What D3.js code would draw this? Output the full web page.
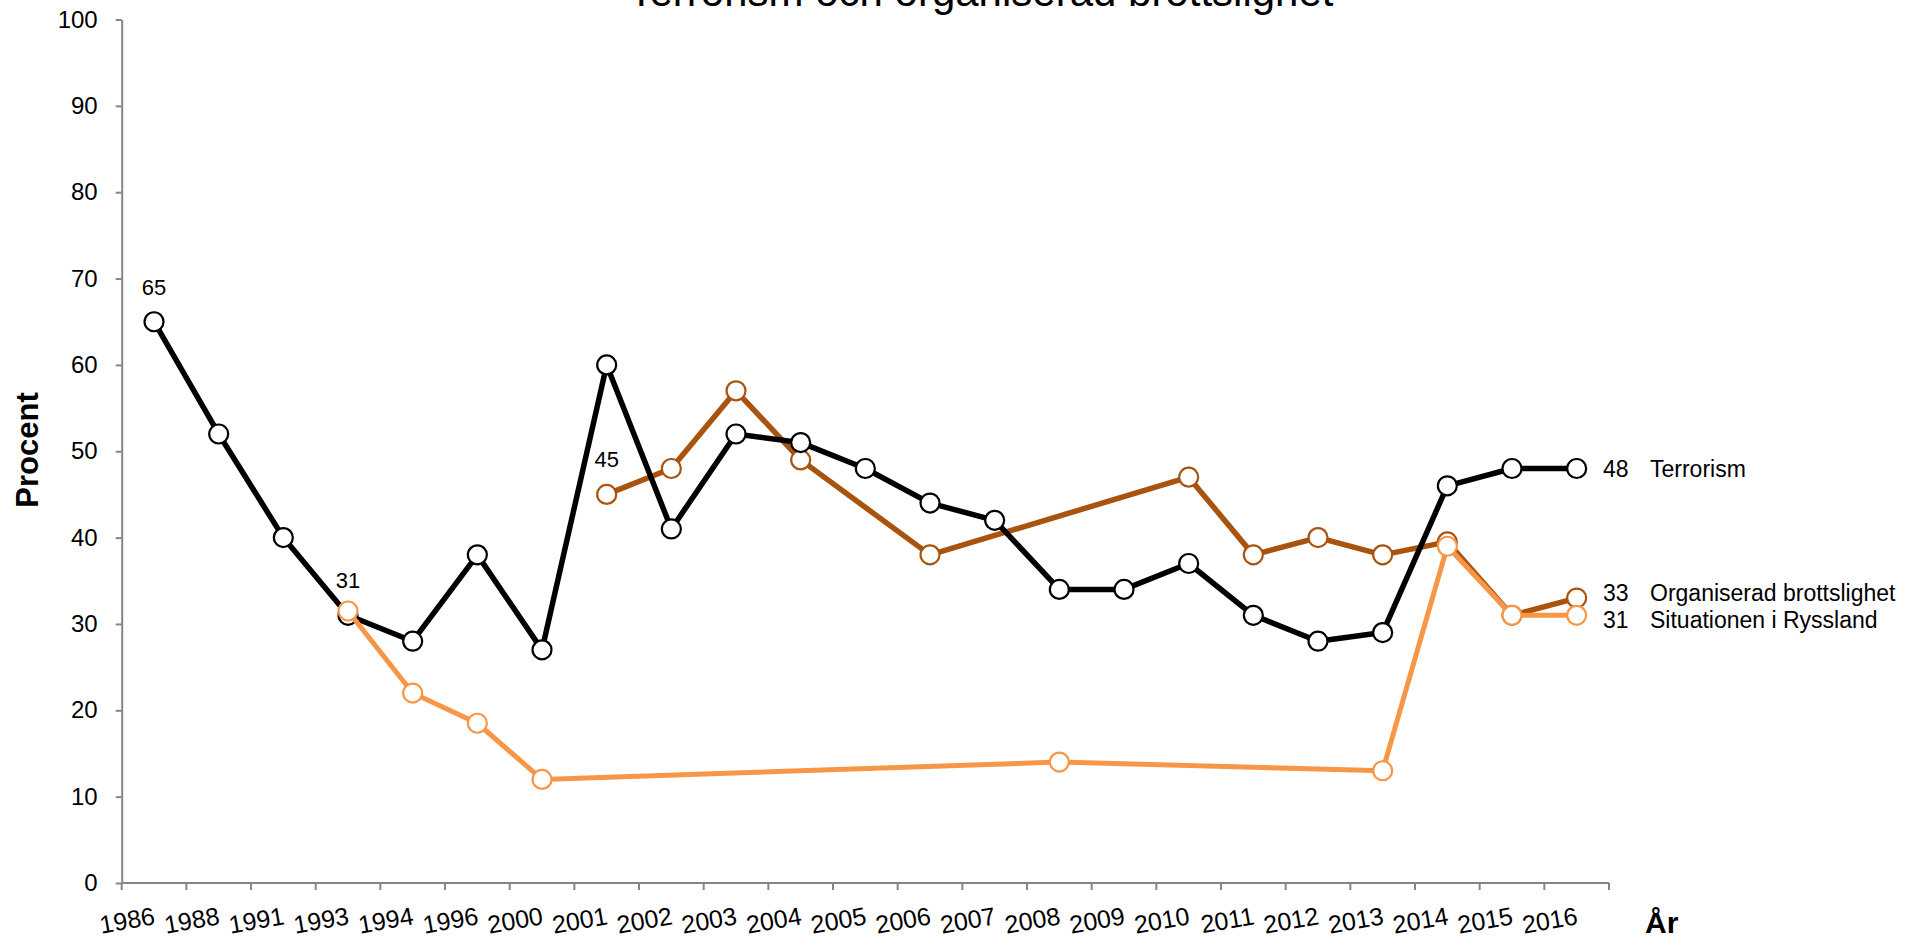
<!DOCTYPE html>
<meta charset="utf-8">
<style>
  body { margin: 0; background: #fff; }
  svg text { font-family: "Liberation Sans", Arial, sans-serif; fill: #000; }
</style>
<svg width="1928" height="939"></svg>
<script src="https://d3js.org/d3.v7.min.js"></script>
<script>

var years = ["1986","1988","1991","1993","1994","1996","2000","2001","2002","2003","2004",
  "2005","2006","2007","2008","2009","2010","2011","2012","2013","2014","2015","2016"];

var terrorism   = [65,52,40,31,28,38,27,60,41,52,51,48,44,42,34,34,37,31,28,29,46,48,48];
var organiserad = [null,null,null,null,null,null,null,45,48,57,49,null,38,null,null,null,47,38,40,38,39.5,31,33];
var ryssland    = [null,null,null,31.5,22,18.5,12,null,null,null,null,null,null,null,14,null,null,null,null,13,39,31,31];

var yTicks = [0,10,20,30,40,50,60,70,80,90,100];

var title = "Terrorism och organiserad brottslighet";
var yTitle = "Procent";
var xTitle = "År";

// series drawn in this order (brown under black, orange on top)
var series = [
  {name: "Organiserad brottslighet", values: organiserad, color: "#A8530E", width: 5.5, endShift: -5},
  {name: "Terrorism", values: terrorism, color: "#000000", width: 5.5, endShift: 0},
  {name: "Situationen i Ryssland", values: ryssland, color: "#F79646", width: 5, endShift: 5}
];

// single value labels
var pointLabels = [
  {values: terrorism, year: "1986"},
  {values: terrorism, year: "1993"},
  {values: organiserad, year: "2001"}
];

function drawChart() {
  var svg = d3.select("svg"),
      plotLeft = 121.7, plotRight = 1609, plotTop = 19.5, plotBottom = 883;

  var x = d3.scaleBand().domain(years).range([plotLeft, plotRight]);
  var y = d3.scaleLinear().domain([0, 100]).range([plotBottom, plotTop]);
  var cx = function(yr) { return x(yr) + x.bandwidth() / 2; };

  var axisColor = "#868686";

  svg.append("text")
      .attr("x", 981)
      .attr("y", 6)
      .attr("text-anchor", "middle")
      .style("font-size", "42px")
      .text(title);

  // y axis
  var gy = svg.append("g")
      .attr("transform", "translate(" + plotLeft + ",0)")
      .call(d3.axisLeft(y).tickValues(yTicks).tickSize(6).tickPadding(18).tickSizeOuter(0));
  gy.select(".domain").attr("stroke", axisColor).attr("stroke-width", 2);
  gy.selectAll(".tick line").attr("stroke", axisColor).attr("stroke-width", 2);
  gy.selectAll(".tick text").style("font-size", "24px").attr("fill", "#000");

  // x axis, ticks between the categories
  var gx = svg.append("g")
      .attr("transform", "translate(0," + plotBottom + ")");
  gx.append("line")
      .attr("x1", plotLeft).attr("x2", plotRight)
      .attr("stroke", axisColor).attr("stroke-width", 2);
  gx.selectAll(".xtick")
      .data(years.concat(["end"]))
    .enter().append("line")
      .attr("class", "xtick")
      .attr("x1", function(d) { return d === "end" ? plotRight : x(d); })
      .attr("x2", function(d) { return d === "end" ? plotRight : x(d); })
      .attr("y1", 0).attr("y2", 7)
      .attr("stroke", axisColor).attr("stroke-width", 2);
  gx.selectAll(".xlabel")
      .data(years)
    .enter().append("text")
      .attr("class", "xlabel")
      .attr("text-anchor", "end")
      .attr("transform", function(d) {
        return "translate(" + (cx(d) + 2) + ",41) rotate(-10)";
      })
      .style("font-size", "25px")
      .text(function(d) { return d; });

  // axis titles
  svg.append("text")
      .attr("transform", "translate(38,450) rotate(-90)")
      .attr("text-anchor", "middle")
      .style("font-size", "31px")
      .style("font-weight", "bold")
      .text(yTitle);

  svg.append("text")
      .attr("x", 1645)
      .attr("y", 933)
      .style("font-size", "30px")
      .style("font-weight", "bold")
      .text(xTitle);

  var line = d3.line()
      .x(function(d) { return cx(d.year); })
      .y(function(d) { return y(d.value); });

  series.forEach(function(s) {
    var pts = years.map(function(yr, i) { return {year: yr, value: s.values[i]}; })
        .filter(function(d) { return d.value != null; });

    var g = svg.append("g");
    g.append("path")
        .datum(pts)
        .attr("fill", "none")
        .attr("stroke", s.color)
        .attr("stroke-width", s.width)
        .attr("stroke-linejoin", "round")
        .attr("d", line);

    g.selectAll("circle")
        .data(pts)
      .enter().append("circle")
        .attr("cx", function(d) { return cx(d.year); })
        .attr("cy", function(d) { return y(d.value); })
        .attr("r", 9.5)
        .attr("fill", "#fff")
        .attr("stroke", s.color)
        .attr("stroke-width", 2.2);

    var last = pts[pts.length - 1];
    var ly = y(last.value) + s.endShift;
    svg.append("text")
        .attr("x", 1603)
        .attr("y", ly)
        .attr("dy", "0.35em")
        .style("font-size", "23px")
        .text(Math.round(last.value));
    svg.append("text")
        .attr("x", 1650)
        .attr("y", ly)
        .attr("dy", "0.35em")
        .style("font-size", "23px")
        .text(s.name);
  });

  pointLabels.forEach(function(p) {
    var v = p.values[years.indexOf(p.year)];
    svg.append("text")
        .attr("x", cx(p.year))
        .attr("y", y(v) - 27)
        .attr("text-anchor", "middle")
        .style("font-size", "22px")
        .text(Math.round(v));
  });
}

drawChart();

</script>
